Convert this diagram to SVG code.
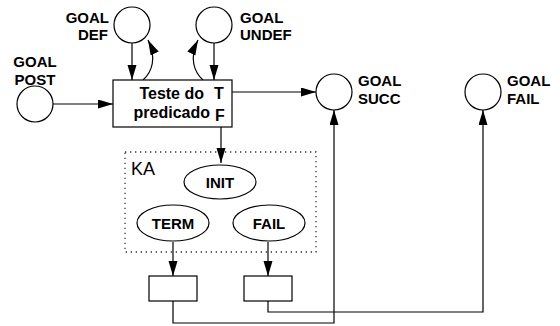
<svg xmlns="http://www.w3.org/2000/svg" width="560" height="326" viewBox="0 0 560 326">
  <style>
    .node { fill: #fff; stroke: #000; stroke-width: 1.2; }
    .lbl { font-family: "Liberation Sans", Arial, sans-serif; font-weight: bold; font-size: 15px; fill: #000; }
    .big { font-size: 16px; }
    .wire { fill: none; stroke: #000; stroke-width: 1.2; }
    .ka { fill: none; stroke: #333; stroke-width: 1.3; stroke-dasharray: 1.3 3.7; }
  </style>
  <defs>
    <marker id="arrow" markerUnits="userSpaceOnUse" markerWidth="16" markerHeight="10" refX="15" refY="4.5" orient="auto">
      <path d="M0,0 L15,4.5 L0,9 z" fill="#000"/>
    </marker>
  </defs>
  <rect width="560" height="326" fill="#fff"/>

  <!-- knowledge area frame -->
  <g id="ka">
    <rect class="ka" x="125" y="152" width="191" height="100"/>
    <text x="131" y="175" font-family="Liberation Sans, Arial, sans-serif" font-size="18" fill="#000">KA</text>
  </g>

  <g id="connectors">
    <line class="wire" x1="53" y1="104" x2="113" y2="104" marker-end="url(#arrow)"/>
    <line class="wire" x1="132" y1="43" x2="132" y2="80" marker-end="url(#arrow)"/>
    <path class="wire" d="M143,80 C152,72 157,58 148,40" marker-end="url(#arrow)"/>
    <line class="wire" x1="214" y1="43" x2="214" y2="80" marker-end="url(#arrow)"/>
    <path class="wire" d="M203,80 C194,72 189,58 198,40" marker-end="url(#arrow)"/>
    <line class="wire" x1="232" y1="92" x2="316" y2="92" marker-end="url(#arrow)"/>
    <line class="wire" x1="221" y1="127" x2="221" y2="163" marker-end="url(#arrow)"/>
    <line class="wire" x1="173" y1="242" x2="173" y2="276" marker-end="url(#arrow)"/>
    <line class="wire" x1="268" y1="242" x2="268" y2="276" marker-end="url(#arrow)"/>
    <path class="wire" d="M173,301 V323 H334 V110" marker-end="url(#arrow)"/>
    <path class="wire" d="M268,301 V312 H483 V110" marker-end="url(#arrow)"/>
  </g>

  <g id="goal-def">
    <circle class="node" cx="132" cy="25" r="18"/>
    <text class="lbl" x="109" y="23" text-anchor="end">GOAL</text>
    <text class="lbl" x="108" y="40" text-anchor="end">DEF</text>
  </g>

  <g id="goal-undef">
    <circle class="node" cx="214" cy="25" r="18"/>
    <text class="lbl" x="240" y="23">GOAL</text>
    <text class="lbl" x="240" y="40">UNDEF</text>
  </g>

  <g id="goal-post">
    <circle class="node" cx="35" cy="104" r="18"/>
    <text class="lbl" x="35" y="67" text-anchor="middle">GOAL</text>
    <text class="lbl" x="35" y="85" text-anchor="middle">POST</text>
  </g>

  <g id="goal-succ">
    <circle class="node" cx="334" cy="92" r="18"/>
    <text class="lbl" x="358" y="86">GOAL</text>
    <text class="lbl" x="358" y="104">SUCC</text>
  </g>

  <g id="goal-fail">
    <circle class="node" cx="483" cy="92" r="18"/>
    <text class="lbl" x="507" y="86">GOAL</text>
    <text class="lbl" x="507" y="104">FAIL</text>
  </g>

  <g id="teste-predicado">
    <rect class="node" x="113" y="80" width="119" height="47"/>
    <text class="lbl big" x="204" y="99" text-anchor="end">Teste do</text>
    <text class="lbl big" x="210" y="118" text-anchor="end">predicado</text>
    <text class="lbl big" x="219" y="99" text-anchor="middle">T</text>
    <text class="lbl big" x="220" y="121" text-anchor="middle">F</text>
  </g>

  <g id="init">
    <ellipse class="node" cx="220" cy="182" rx="36" ry="17"/>
    <text class="lbl" x="220" y="188" text-anchor="middle">INIT</text>
  </g>

  <g id="term">
    <ellipse class="node" cx="173" cy="223" rx="36" ry="18"/>
    <text class="lbl" x="173" y="229" text-anchor="middle">TERM</text>
  </g>

  <g id="fail">
    <ellipse class="node" cx="269" cy="223" rx="36" ry="18"/>
    <text class="lbl" x="269" y="229" text-anchor="middle">FAIL</text>
  </g>

  <g id="term-out">
    <rect class="node" x="149" y="276" width="48" height="25"/>
  </g>

  <g id="fail-out">
    <rect class="node" x="244" y="276" width="48" height="25"/>
  </g>
</svg>
